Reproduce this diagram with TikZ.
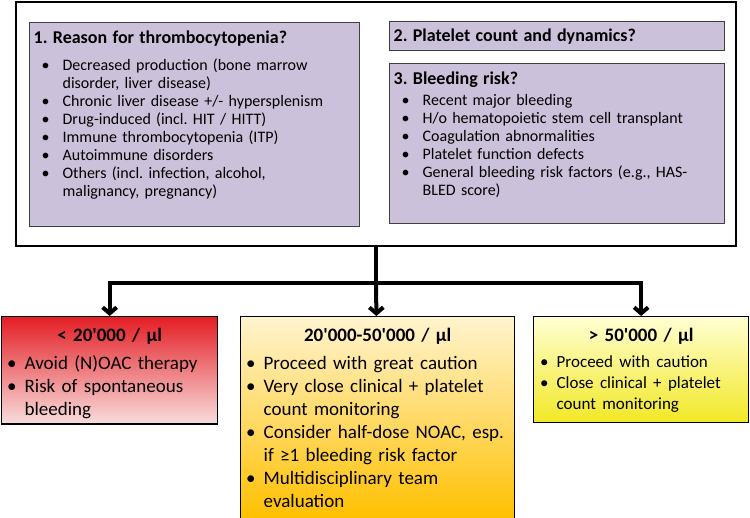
\documentclass[tikz,border=0pt]{standalone}
\usepackage{fontspec}
\setmainfont{Carlito}[Ligatures=TeXOff]
\usepackage{enumitem}
\usetikzlibrary{arrows.meta}
\frenchspacing

\definecolor{lavender}{HTML}{CCC1DA}
\definecolor{boxline}{HTML}{404040}
\definecolor{redtop}{HTML}{E31E24}
\definecolor{redbot}{HTML}{F9DDDD}
\definecolor{ortop}{HTML}{FFF4CF}
\definecolor{ormid}{HTML}{FDE49C}
\definecolor{orbot}{HTML}{FFC000}
\definecolor{yetop}{HTML}{FFFFD2}
\definecolor{yemid}{HTML}{F9F57E}
\definecolor{yebot}{HTML}{F2E826}

\newlist{asks}{itemize}{1}
\setlist[asks]{nosep, label=\textbullet, leftmargin=29pt, labelsep=13pt}
\newlist{todo}{itemize}{1}
\setlist[todo]{nosep, label=\textbullet, leftmargin=19pt, labelsep=8pt}
\newcommand{\pad}[1]{\rule[-#1]{0pt}{#1}}
\newcommand{\askhead}[1]{{\fontsize{18}{20}\selectfont\bfseries #1}}
\newcommand{\rangehead}[1]{\makebox[\linewidth]{\rule{0pt}{20pt}\bfseries #1}\par\vspace{5pt}}

\tikzstyle{frame} = [rectangle, draw=black, line width=2.5pt,
                     minimum width=720pt, minimum height=244pt]
\tikzstyle{question} = [rectangle, draw=boxline, line width=1.3pt, fill=lavender,
                        anchor=north west, inner xsep=4pt, inner ysep=8pt, align=left,
                        font=\fontsize{16}{18}\selectfont]
\tikzstyle{action} = [rectangle, draw=black, line width=1.3pt, anchor=north west,
                      inner xsep=4pt, inner ysep=5pt, align=left,
                      font=\fontsize{19}{23}\selectfont]
\tikzstyle{flow} = [line width=4pt, -{Straight Barb[length=6pt,width=14pt]}]

\begin{document}
\begin{tikzpicture}[x=1pt, y=-1pt]
    \useasboundingbox (0,0) rectangle (750,518);
    \node[frame] (frame) at (376,124) {};
    \node[question, text width=322pt] (reason) at (29,22) {\askhead{1. Reason for thrombocytopenia?}\par\vspace{9pt}
      \begin{asks}
        \item Decreased production (bone marrow\newline disorder, liver disease)
        \item Chronic liver disease +/- hypersplenism
        \item Drug-induced (incl. HIT / HITT)
        \item Immune thrombocytopenia (ITP)
        \item Autoimmune disorders
        \item Others (incl. infection, alcohol,\newline malignancy, pregnancy)\pad{22pt}
      \end{asks}};
    \node[question, text width=327pt, inner ysep=2pt, minimum height=29pt] (count) at (389,21) {\askhead{2. Platelet count and dynamics?}};
    \node[question, text width=327pt] (risk) at (389,63) {\askhead{3. Bleeding risk?}\par\vspace{3pt}
      \begin{asks}
        \item Recent major bleeding
        \item H/o hematopoietic stem cell transplant
        \item Coagulation abnormalities
        \item Platelet function defects
        \item General bleeding risk factors (e.g., HAS-\newline BLED score)\pad{20pt}
      \end{asks}};
    % platelet count ranges
    \node[action, text width=208pt, top color=redtop, bottom color=redbot] (low) at (1,316) {\rangehead{< 20'000 / µl}
      \begin{todo}
        \item Avoid (N)OAC therapy
        \item Risk of spontaneous\newline bleeding
      \end{todo}};
    \node[action, text width=266pt, top color=ortop, middle color=ormid, bottom color=orbot] (mid) at (240,316) {\rangehead{20'000-50'000 / µl}
      \begin{todo}
        \item Proceed with great caution
        \item Very close clinical + platelet\newline count monitoring
        \item Consider half-dose NOAC, esp.\newline if ≥1 bleeding risk factor
        \item Multidisciplinary team\newline evaluation\pad{6pt}
      \end{todo}};
    \node[action, text width=207pt, top color=yetop, middle color=yemid, bottom color=yebot] (high) at (533,316) {\rangehead{> 50'000 / µl}
      \fontsize{17}{21}\selectfont
      \begin{todo}
        \item Proceed with caution
        \item Close clinical + platelet\newline count monitoring\pad{8pt}
      \end{todo}};
    \coordinate (split) at (376,283);
    \draw[line width=4pt] (frame.south) -- (split);
    \draw[flow] (split) -| (low);
    \draw[flow] (split) -- (mid);
    \draw[flow] (split) -| (high);
\end{tikzpicture}
\end{document}
